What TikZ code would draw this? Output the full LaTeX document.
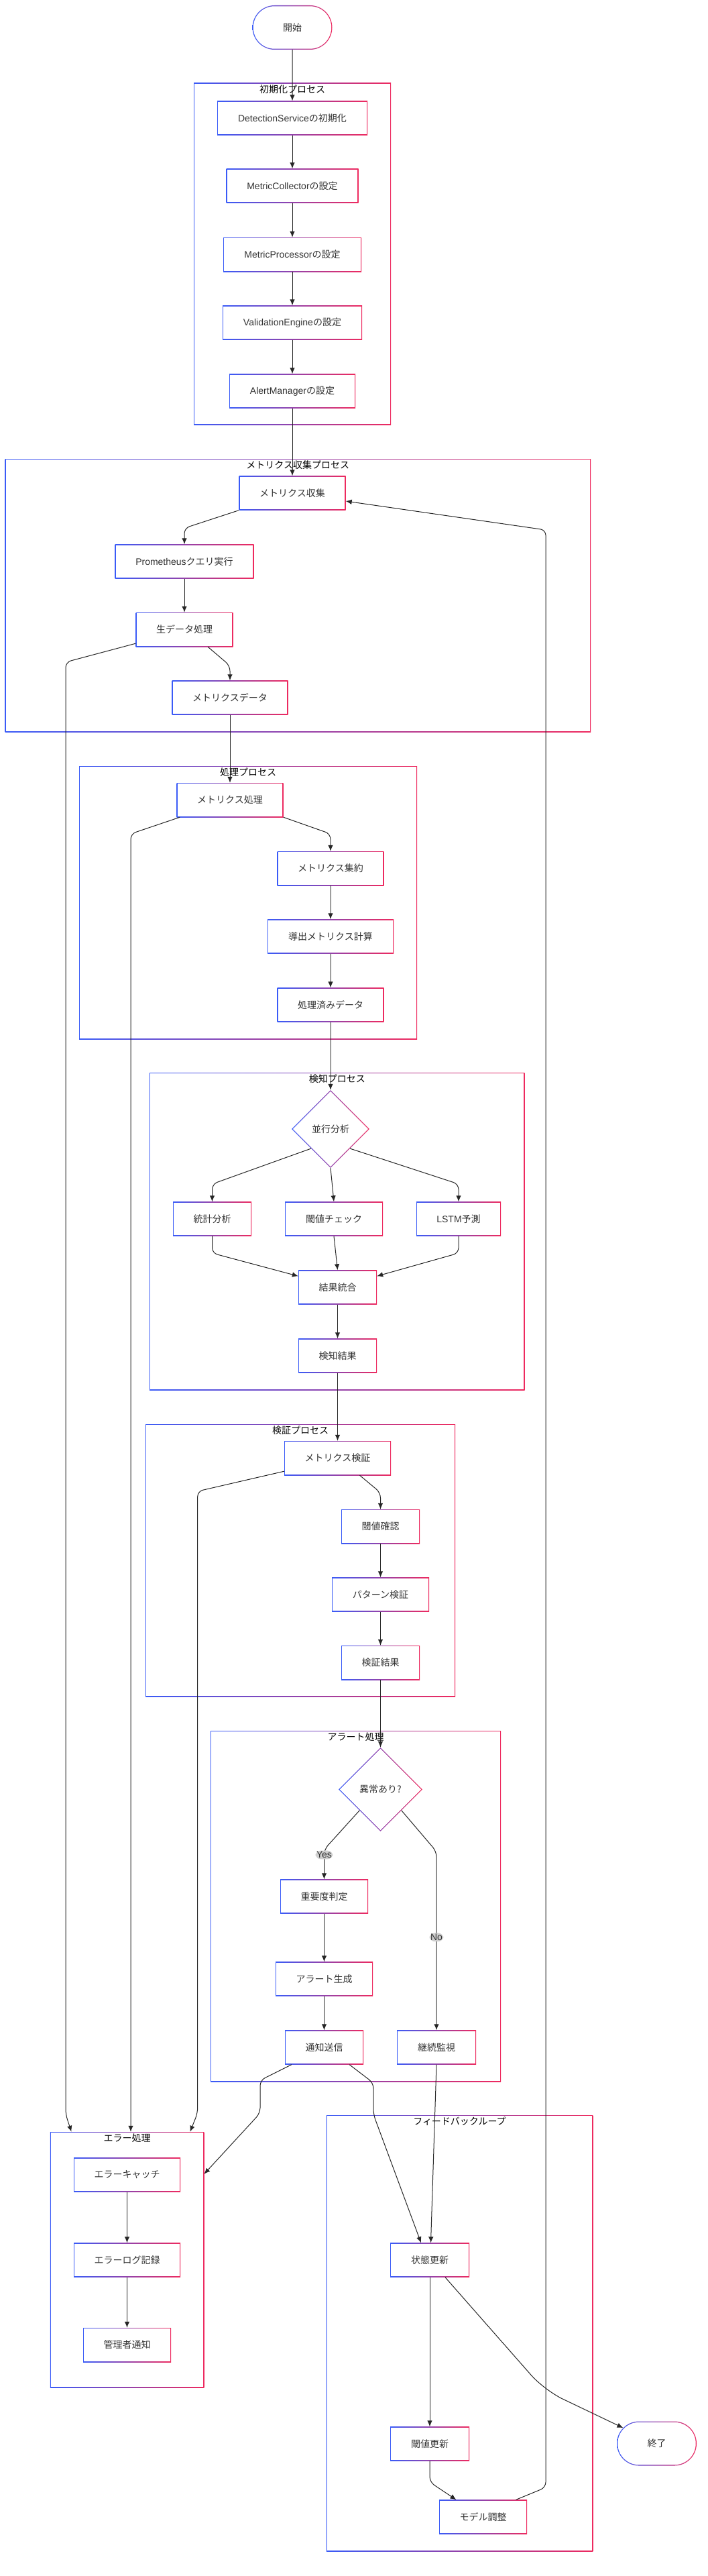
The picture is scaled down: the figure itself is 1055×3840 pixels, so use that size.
\documentclass[tikz,border=0pt]{standalone}
\usepackage{fontspec}
\setmainfont{Noto Sans CJK JP}
\newfontfamily\latinfont{Liberation Sans}
\usetikzlibrary{shapes,arrows.meta}
\definecolor{gblue}{HTML}{3A5BF7}
\definecolor{gred}{HTML}{EE2A5F}
\definecolor{txtgray}{HTML}{333333}
\newcommand{\boxfont}{\fontsize{14pt}{16pt}\selectfont}
\newcommand{\lat}[1]{{\latinfont #1}}

\begin{document}
\begin{tikzpicture}[x=1pt,y=-1pt]
		\tikzstyle{grad} = [left color=gblue, right color=gred, inner sep=0pt]
		\tikzstyle{box} = [grad, rectangle, minimum height=51pt, text=txtgray, font=\boxfont,
			path picture={\fill[white] ([shift={(1.3pt,1.3pt)}]path picture bounding box.south west) rectangle ([shift={(-1.3pt,-1.3pt)}]path picture bounding box.north east);}]
		\tikzstyle{terminal} = [grad, rounded rectangle, minimum width=119pt, minimum height=66pt, text=txtgray, font=\boxfont,
			path picture={\fill[white, rounded corners=31.7pt] ([shift={(1.3pt,1.3pt)}]path picture bounding box.south west) rectangle ([shift={(-1.3pt,-1.3pt)}]path picture bounding box.north east);}]
		\tikzstyle{decision} = [grad, diamond, minimum width=116pt, minimum height=116pt, text=txtgray, font=\boxfont,
			path picture={\fill[white] ([yshift=-1.8pt]path picture bounding box.north) -- ([xshift=-1.8pt]path picture bounding box.east) -- ([yshift=1.8pt]path picture bounding box.south) -- ([xshift=1.8pt]path picture bounding box.west) -- cycle;}]
		\tikzstyle{ctitle} = [font=\boxfont, text=black, inner sep=0pt, anchor=north]
		\tikzstyle{elabel} = [fill=black!19, text=txtgray, font=\boxfont, inner sep=1.5pt]
		\tikzstyle{flow} = [line width=1pt, draw=black!85, -{Latex[length=9pt,width=7.5pt]}, rounded corners=8pt]

		\useasboundingbox (0,0) rectangle (1055,3840);

		% subgraphs
		\node[box, minimum width=294pt, minimum height=509pt] (cinit) at (436,378.5) {};
		\node[box, minimum width=873.5pt, minimum height=407pt] (cmet) at (444.25,887.5) {};
		\node[box, minimum width=504pt, minimum height=407pt] (cproc) at (370,1345.5) {};
		\node[box, minimum width=559.5pt, minimum height=473pt] (cdet) at (502.75,1835.5) {};
		\node[box, minimum width=462pt, minimum height=406pt] (cval) at (448,2326) {};
		\node[box, minimum width=433pt, minimum height=523pt] (calert) at (530.5,2841.5) {};
		\node[box, minimum width=229.5pt, minimum height=381pt] (cerr) at (189.5,3368.5) {};
		\node[box, minimum width=397.5pt, minimum height=650pt] (cfb) at (685.5,3478) {};

		\node[ctitle] (tinit) at ([yshift=-3pt]cinit.north) {初期化プロセス};
		\node[ctitle] (tmet) at ([yshift=-3pt]cmet.north) {メトリクス収集プロセス};
		\node[ctitle] (tproc) at ([yshift=-3pt]cproc.north) {処理プロセス};
		\node[ctitle] (tdet) at ([yshift=-3pt]cdet.north) {検知プロセス};
		\node[ctitle] (tval) at ([yshift=-3pt]cval.north) {検証プロセス};
		\node[ctitle] (talert) at ([yshift=-3pt]calert.north) {アラート処理};
		\node[ctitle] (terr) at ([yshift=-3pt]cerr.north) {エラー処理};
		\node[ctitle] (tfb) at ([yshift=-3pt]cfb.north) {フィードバックループ};

		% steps
		\node[terminal] (start) at (436,41) {開始};
		\node[box, minimum width=224pt] (detsvc) at (436,176) {\lat{DetectionService}の初期化};
		\node[box, minimum width=197pt] (mcoll) at (436,277) {\lat{MetricCollector}の設定};
		\node[box, minimum width=206pt] (mproc) at (436,379.5) {\lat{MetricProcessor}の設定};
		\node[box, minimum width=208pt] (valeng) at (436,481) {\lat{ValidationEngine}の設定};
		\node[box, minimum width=188pt] (alertmgr) at (436,583) {\lat{AlertManager}の設定};

		\node[box, minimum width=159pt] (collect) at (436,735) {メトリクス収集};
		\node[box, minimum width=207pt] (prom) at (275,837) {\lat{Prometheus}クエリ実行};
		\node[box, minimum width=145pt] (rawproc) at (275,938.5) {生データ処理};
		\node[box, minimum width=173pt] (metdata) at (343,1040) {メトリクスデータ};

		\node[box, minimum width=159pt] (metproc) at (343,1192.5) {メトリクス処理};
		\node[box, minimum width=159pt] (aggr) at (493,1294.5) {メトリクス集約};
		\node[box, minimum width=188pt] (derived) at (493,1396) {導出メトリクス計算};
		\node[box, minimum width=159pt] (procdata) at (493,1498) {処理済みデータ};

		\node[decision] (para) at (493,1683) {並行分析};
		\node[box, minimum width=117pt] (stat) at (316.5,1817) {統計分析};
		\node[box, minimum width=146pt] (thr) at (498,1817) {閾値チェック};
		\node[box, minimum width=126pt] (lstm) at (684,1817) {\lat{LSTM}予測};
		\node[box, minimum width=117pt] (merge) at (503.5,1919) {結果統合};
		\node[box, minimum width=117pt] (detres) at (503.5,2021) {検知結果};

		\node[box, minimum width=159pt] (metval) at (503.5,2173.5) {メトリクス検証};
		\node[box, minimum width=117pt] (thrchk) at (567.5,2275.5) {閾値確認};
		\node[box, minimum width=145pt] (pattern) at (567.5,2377) {パターン検証};
		\node[box, minimum width=117pt] (valres) at (567.5,2478.5) {検証結果};

		\node[decision, minimum width=125pt, minimum height=125pt] (anom) at (567.5,2667.5) {異常あり?};
		\node[box, minimum width=131pt] (severity) at (483.5,2827) {重要度判定};
		\node[box, minimum width=145pt] (alertgen) at (483.5,2950) {アラート生成};
		\node[box, minimum width=117pt] (notify) at (483.5,3052) {通知送信};
		\node[box, minimum width=118pt] (monitor) at (651,3052) {継続監視};

		\node[box, minimum width=159pt] (catch) at (189.5,3242) {エラーキャッチ};
		\node[box, minimum width=159pt] (errlog) at (189.5,3369) {エラーログ記録};
		\node[box, minimum width=131pt] (admin) at (189.5,3495.5) {管理者通知};

		\node[box, minimum width=118pt] (state) at (641,3369) {状態更新};
		\node[box, minimum width=118pt] (thrupd) at (641,3643) {閾値更新};
		\node[box, minimum width=131pt] (model) at (720.5,3752) {モデル調整};
		\node[terminal] (finish) at (979.5,3642.5) {終了};

		% connectors
		\draw[flow] (start) -- (detsvc);
		\draw[flow] (detsvc) -- (mcoll);
		\draw[flow] (mcoll) -- (mproc);
		\draw[flow] (mproc) -- (valeng);
		\draw[flow] (valeng) -- (alertmgr);
		\draw[flow] (alertmgr) -- (collect);

		\draw[flow] (collect.south west) -- ([yshift=24pt]prom.north) -- (prom.north);
		\draw[flow] (prom) -- (rawproc);
		\draw[flow] ([xshift=35pt]rawproc.south) -- ([yshift=22pt]metdata.north) -- (metdata.north);
		\draw[flow] ([yshift=5pt]rawproc.south west) -- (98,987) -- (98,3152) -- ([xshift=32pt]cerr.north west);
		\draw[flow] (metdata) -- (metproc);

		\draw[flow] (metproc.south east) -- (493,1243) -- (aggr.north);
		\draw[flow] ([xshift=5pt]metproc.south west) -- (195,1243) -- ([xshift=5.5pt]cerr.north);
		\draw[flow] (aggr) -- (derived);
		\draw[flow] (derived) -- (procdata);
		\draw[flow] (procdata) -- (para);

		\draw[flow] (para.south west) -- (316.5,1765) -- (stat.north);
		\draw[flow] (para.south) -- (thr.north);
		\draw[flow] (para.south east) -- (684,1765) -- (lstm.north);
		\draw[flow] (stat.south) -- (316.5,1868) -- ([yshift=-9pt]merge.north west);
		\draw[flow] (thr.south) -- (merge.north);
		\draw[flow] (lstm.south) -- (684,1868) -- ([yshift=-9pt]merge.north east);
		\draw[flow] (merge) -- (detres);
		\draw[flow] (detres) -- (metval);

		\draw[flow] ([xshift=33pt]metval.south) -- (567.5,2225) -- (thrchk.north);
		\draw[flow] ([yshift=6pt]metval.south west) -- (294.7,2223) -- (294.7,3150) -- ([xshift=-21pt]cerr.north east);
		\draw[flow] (thrchk) -- (pattern);
		\draw[flow] (pattern) -- (valres);
		\draw[flow] (valres) -- (anom);

		\draw[flow] (anom.south west) -- (483.5,2757) -- (severity.north) node[elabel, pos=0.18] (lyes) {\lat{Yes}};
		\draw[flow] (anom.south east) -- (651,2760) -- (monitor.north) node[elabel, pos=0.48] (lno) {\lat{No}};
		\draw[flow] (severity) -- (alertgen);
		\draw[flow] (alertgen) -- (notify);
		\draw[flow] ([xshift=10pt]notify.south west) -- (388,3101) -- (388,3150) -- ([yshift=-63pt]cerr.north east);
		\draw[flow] ([xshift=-21pt]notify.south east) -- (557,3105) -- (557,3152) -- ([xshift=-13pt]state.north);
		\draw[flow] (monitor.south) -- ([xshift=1.5pt]state.north);

		\draw[flow] (catch) -- (errlog);
		\draw[flow] (errlog) -- (admin);

		\draw[flow] (state) -- (thrupd);
		\draw[flow, rounded corners=30pt] ([xshift=23pt]state.south) -- (812,3563) -- (finish.155);
		\draw[flow] (thrupd.south) -- (641,3700) -- ([xshift=-40pt]model.north);
		\draw[flow] ([xshift=49pt]model.north) -- (814,3708) -- (814,790) -- ([yshift=-12pt]collect.east);
\end{tikzpicture}
\end{document}
